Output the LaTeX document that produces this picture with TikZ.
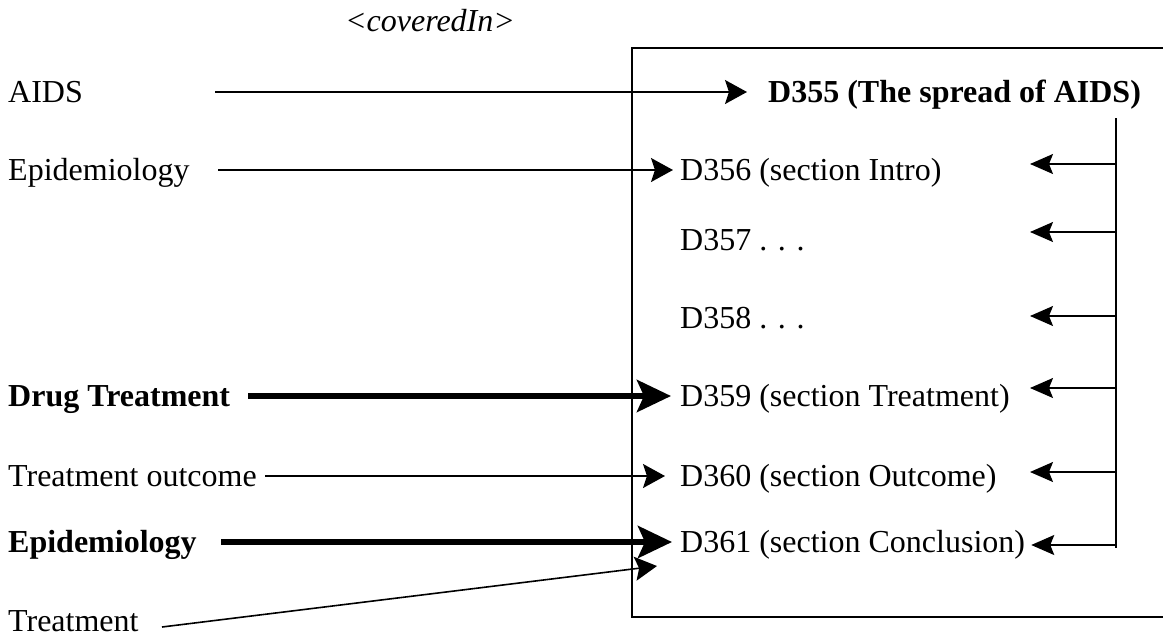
\documentclass[tikz,border=0pt]{standalone}
\usepackage{fontspec}
\setmainfont{Liberation Serif}
\usetikzlibrary{arrows.meta}
\begin{document}
\begin{tikzpicture}[x=1pt,y=-1pt,
  lbl/.style={anchor=west, inner sep=0pt, text height=21pt, text depth=0pt,
    font=\fontsize{32}{38}\selectfont},
  lnk/.style={line width=1.6pt, -{Stealth[length=22pt,width=24pt,inset=4pt]}},
  heavy/.style={line width=6pt, -{Stealth[length=34pt,width=32pt,inset=7pt]}},
  back/.style={line width=1.5pt, -{Stealth[length=23pt,width=20pt,inset=4pt]}},
  frame/.style={line width=2.2pt},
  spine/.style={line width=2.6pt}]
\useasboundingbox (0,0) rectangle (1163,638);

% relation name
\node[lbl, anchor=center, font=\fontsize{32}{38}\selectfont\itshape] (rel) at (430,21) {<coveredIn>};

% document frame (open on the right)
\coordinate (fTR) at (1163,48);
\coordinate (fTL) at (632,48);
\coordinate (fBL) at (632,617);
\coordinate (fBR) at (1163,617);
\draw[frame] (fTR) -- (fTL) -- (fBL) -- (fBR);

% subject terms
\node[lbl] (aids)  at (8,92)  {AIDS};
\node[lbl] (epi)   at (8,170) {Epidemiology};
\node[lbl] (drug)  at (8,396) {\bfseries Drug Treatment};
\node[lbl] (outc)  at (8,476) {Treatment outcome};
\node[lbl] (epib)  at (8,542) {\bfseries Epidemiology};
\node[lbl] (treat) at (8,621) {Treatment};

% document and its sections
\node[lbl] (d355) at (768,92)  {\bfseries D355 (The spread of AIDS)};
\node[lbl] (d356) at (680,170) {D356 (section Intro)};
\node[lbl] (d357) at (680,240) {D357 . . .};
\node[lbl] (d358) at (680,318) {D358 . . .};
\node[lbl] (d359) at (680,396) {D359 (section Treatment)};
\node[lbl] (d360) at (680,476) {D360 (section Outcome)};
\node[lbl] (d361) at (680,542) {D361 (section Conclusion)};

% starts of the term links
\coordinate (sA) at (215,92);
\coordinate (sE) at (218,170);
\coordinate (sD) at (248,396);
\coordinate (sO) at (265,476);
\coordinate (sB) at (221,542);
\coordinate (sT) at (162,627);
\coordinate (tT) at (657,566);

\draw[lnk]   (sA) -- ([xshift=-21pt]d355.west);
\draw[lnk]   (sE) -- ([xshift=-7pt]d356.west);
\draw[heavy] (sD) -- ([xshift=-9pt]d359.west);
\draw[lnk]   (sO) -- ([xshift=-15pt]d360.west);
\draw[heavy] (sB) -- ([xshift=-8pt]d361.west);
\draw[lnk]   (sT) -- (tT);

% part-of spine
\coordinate (pTop) at (1116,118);
\coordinate (pBot) at (1116,548);
\coordinate (tipx) at (1030,0);
\draw[spine] (pTop) -- (pBot);
\coordinate (p1) at (1116,164);
\coordinate (p2) at (1116,232);
\coordinate (p3) at (1116,316);
\coordinate (p4) at (1116,388);
\coordinate (p5) at (1116,472);
\coordinate (p6) at (1116,545);
\foreach \p in {p1,p2,p3,p4,p5}
  \draw[back] (\p) -- (\p -| tipx);
\draw[back] (p6) -- ([xshift=6pt]d361.east |- p6);
\end{tikzpicture}
\end{document}
